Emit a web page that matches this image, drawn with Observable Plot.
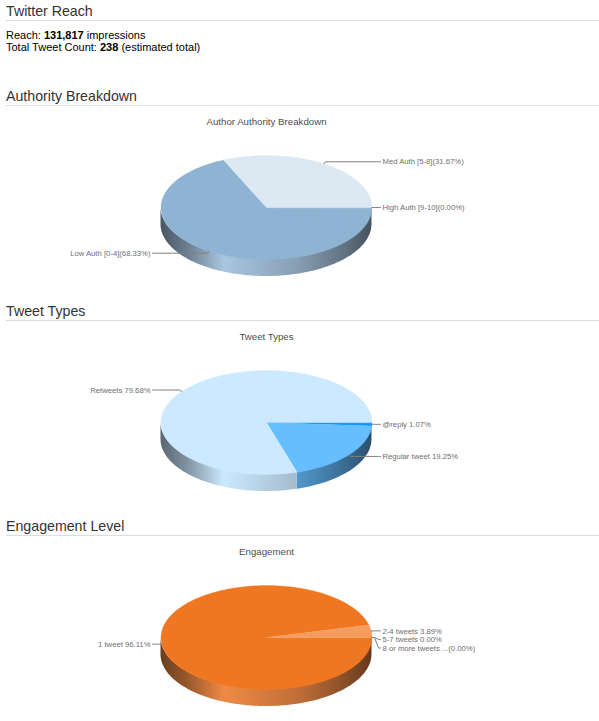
<!DOCTYPE html>
<html>
<head>
<meta charset="utf-8">
<script src="https://cdn.jsdelivr.net/npm/d3@7"></script>
<script src="https://cdn.jsdelivr.net/npm/@observablehq/plot@0.6"></script>
<style>
html,body{margin:0;padding:0;background:#fff;overflow:hidden;font-family:"Liberation Sans",Arial,sans-serif;}
h2{margin:0 0 0 6px;padding:0;height:20px;line-height:22px;font-size:14.2px;font-weight:normal;color:#333;border-bottom:1px solid #e0ddd8;}
#reach{padding:9px 0 0 6px;height:55px;font-size:11px;line-height:11.5px;color:#000;}
svg{display:block;}
</style>
</head>
<body>
<h2>Twitter Reach</h2>
<div id="reach">Reach: <b>131,817</b> impressions<br>Total Tweet Count: <b>238</b> (estimated total)</div>
<h2>Authority Breakdown</h2>
<div id="c1"></div>
<h2>Tweet Types</h2>
<div id="c2"></div>
<h2>Engagement Level</h2>
<div id="c3"></div>
<script>
const authorityLabels = ["High Auth [9-10](0.00%)", "Low Auth [0-4](68.33%)", "Med Auth [5-8](31.67%)"];
const authorityShares = [0, 68.33, 31.67];
const authorityTop = ["#8fb3d3", "#8fb3d3", "#dce8f2"];
const authoritySide = ["#8fb3d3", "#a9c6e0", "#dce8f2"];

const typeLabels = ["@reply 1.07%", "Regular tweet 19.25%", "Retweets 79.68%"];
const typeShares = [1.07, 19.25, 79.68];
const typeTop = ["#0a95ff", "#66bdff", "#cce9ff"];
const typeSide = ["#0a95ff", "#66bdff", "#cce9ff"];

const engagementLabels = ["1 tweet 96.11%", "2-4 tweets 3.89%", "5-7 tweets 0.00%", "8 or more tweets ...(0.00%)"];
const engagementShares = [96.11, 3.89, 0, 0];
const engagementTop = ["#f07721", "#f59c5e", "#f07721", "#f07721"];
const engagementSide = ["#f08a45", "#f59c5e", "#f07721", "#f07721"];

const W = 599, CX = 266, CY = 101, RX = 105.5, RY = 52, DEPTH = 17;
const LABEL_GAP = 8.6, LABEL_R = 2.5;
const WALL_STOPS = [[0, .44], [.12, .62], [.3, 1], [.65, .8], [.85, .6], [1, .42]];
let gid = 0;

function ellipse(a) { return {x: RX * Math.cos(a), y: RY * Math.sin(a)}; }
function arc(a0, a1) {
  const n = Math.max(2, Math.ceil((a1 - a0) / 0.02));
  return d3.range(n + 1).map(i => a0 + (a1 - a0) * i / n);
}

function pie3d(el, title, labels, shares, topColors, sideColors, height) {
  let acc = 0;
  const slices = shares.map((s, i) => {
    const a0 = acc / 100 * 2 * Math.PI; acc += s;
    const a1 = acc / 100 * 2 * Math.PI;
    return {label: labels[i], a0, a1, mid: (a0 + a1) / 2, top: topColors[i], side: sideColors[i], id: `g${gid++}`};
  });
  const lab = slices.map(s => {
    const ax = RX * Math.cos(s.mid), ay = RY * Math.sin(s.mid);
    const rx = (RX + LABEL_R) * Math.cos(s.mid), ry = (RY + LABEL_R) * Math.sin(s.mid);
    const right = Math.cos(s.mid) >= 0;
    return {...s, ax, ay, rx, ry, right, ly: ry};
  });
  const spread = right => {
    const group = lab.filter(l => l.right === right).sort((a, b) => a.ry - b.ry);
    group.forEach((l, i) => { if (i && l.ly < group[i - 1].ly + LABEL_GAP) l.ly = group[i - 1].ly + LABEL_GAP; });
  };
  spread(true); spread(false);
  const conn = lab.flatMap(l => {
    const sgn = l.right ? 1 : -1;
    const end = sgn * (RX + 8.5), knee = sgn * (RX + 6.5);
    return [[l.ax, l.ay], [l.rx, l.ry], [knee, l.ly], [end, l.ly]].map(([x, y]) => ({x, y, k: l.label}));
  });
  const textPts = lab.map(l => ({x: (l.right ? 1 : -1) * (RX + 10.5), y: l.ly + 0.2, text: l.label, right: l.right}));

  const marks = [];
  marks.push(() => {
    const defs = d3.create("svg:defs");
    slices.forEach(s => {
      const g = defs.append("linearGradient").attr("id", s.id).attr("gradientUnits", "userSpaceOnUse")
        .attr("x1", CX - RX).attr("x2", CX + RX).attr("y1", 0).attr("y2", 0);
      const c = d3.color(s.side);
      WALL_STOPS.forEach(([o, m]) => g.append("stop").attr("offset", o).attr("stop-color", d3.rgb(c.r * m, c.g * m, c.b * m).formatHex()));
    });
    return defs.node();
  });
  slices.forEach(s => {
    const a0 = Math.max(s.a0, 0), a1 = Math.min(s.a1, Math.PI);
    if (a1 > a0) {
      const pts = arc(a0, a1).map(a => ({x: RX * Math.cos(a), y1: RY * Math.sin(a), y2: RY * Math.sin(a) + DEPTH}));
      marks.push(Plot.areaY(pts, {x: "x", y1: "y1", y2: "y2", fill: `url(#${s.id})`}));
    }
  });
  slices.forEach(s => {
    if (s.a1 > s.a0) {
      const pts = [{x: 0, y: 0}, ...arc(s.a0, s.a1).map(ellipse)];
      marks.push(Plot.line(pts, {x: "x", y: "y", fill: s.top, stroke: s.top, strokeWidth: 0.3, curve: "linear-closed"}));
    }
  });
  marks.push(Plot.line(conn, {x: "x", y: "y", z: "k", stroke: "#808080", strokeWidth: 1, curve: "linear"}));
  const labelStyle = {x: "x", y: "y", text: "text", fill: "#6e6e6e", fontSize: 7.7, lineAnchor: "middle"};
  marks.push(Plot.text(textPts.filter(d => d.right), {...labelStyle, textAnchor: "start"}));
  marks.push(Plot.text(textPts.filter(d => !d.right), {...labelStyle, textAnchor: "end"}));
  marks.push(Plot.text([title], {x: () => 0, y: () => -85.5, text: d => d, fill: "#4d4d4d", fontSize: 9.7, lineAnchor: "middle"}));

  const chart = Plot.plot({
    width: W, height, margin: 0,
    style: {background: "transparent", fontFamily: '"Liberation Sans",Arial,sans-serif'},
    x: {domain: [-CX, W - CX], range: [0, W], axis: null},
    y: {domain: [-CY, height - CY], range: [0, height], axis: null},
    marks
  });
  document.getElementById(el).appendChild(chart);
}

pie3d("c1", "Author Authority Breakdown", authorityLabels, authorityShares, authorityTop, authoritySide, 194);
pie3d("c2", "Tweet Types", typeLabels, typeShares, typeTop, typeSide, 194);
pie3d("c3", "Engagement", engagementLabels, engagementShares, engagementTop, engagementSide, 185);
</script>
</body>
</html>
